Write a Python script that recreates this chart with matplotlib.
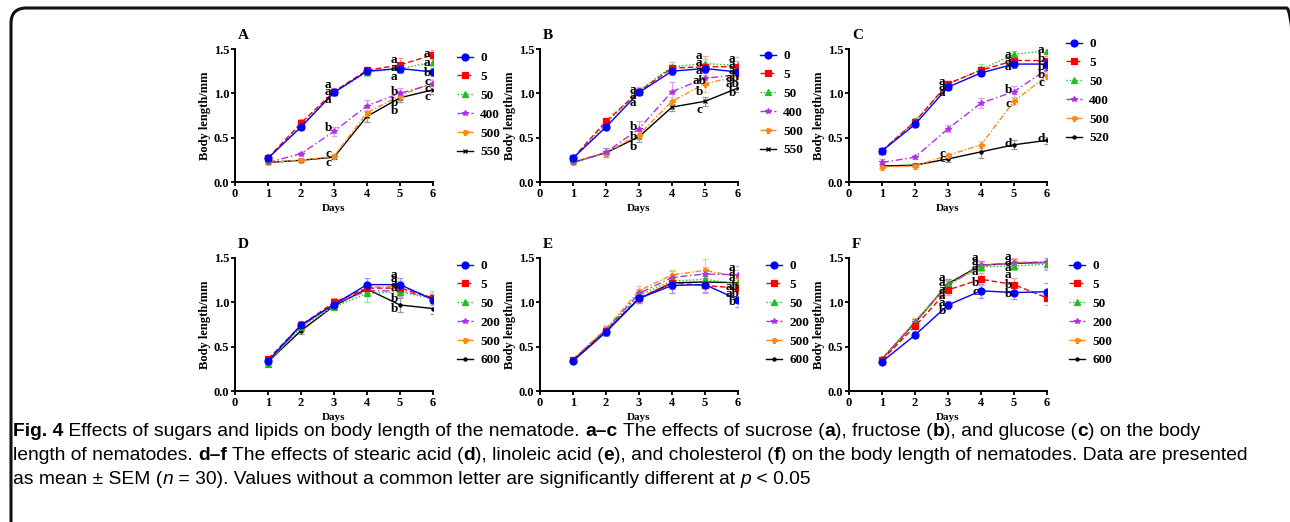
import matplotlib
matplotlib.use("Agg")
import matplotlib.pyplot as plt
from matplotlib.patches import FancyBboxPatch

days = [1, 2, 3, 4, 5, 6]

# --- A: sucrose ---
a_groups = ["0", "5", "50", "400", "500", "550"]
a_vals = [
    [0.27, 0.62, 1.01, 1.25, 1.28, 1.24],
    [0.27, 0.665, 1.02, 1.26, 1.32, 1.435],
    [0.26, 0.64, 1.01, 1.24, 1.28, 1.35],
    [0.22, 0.32, 0.57, 0.86, 1.00, 1.105],
    [0.22, 0.245, 0.29, 0.78, 0.975, 1.12],
    [0.22, 0.245, 0.28, 0.74, 0.95, 1.04],
]
a_err = [
    [0.03, 0.03, 0.03, 0.04, 0.05, 0.05],
    [0.03, 0.04, 0.04, 0.04, 0.08, 0.05],
    [0.02, 0.03, 0.04, 0.04, 0.04, 0.04],
    [0.02, 0.02, 0.05, 0.06, 0.06, 0.05],
    [0.02, 0.02, 0.03, 0.05, 0.05, 0.04],
    [0.02, 0.02, 0.02, 0.06, 0.05, 0.05],
]
a_letters = [(3, 1.09, "a"), (3, 1.02, "a"), (3, 0.92, "a"), (3, 0.61, "b"),
             (3, 0.32, "c"), (3, 0.21, "c"),
             (5, 1.38, "a"), (5, 1.29, "a"), (5, 1.18, "a"), (5, 1.01, "b"),
             (5, 0.89, "b"), (5, 0.80, "b"),
             (6, 1.44, "a"), (6, 1.34, "a"), (6, 1.23, "b"), (6, 1.13, "c"),
             (6, 1.05, "c"), (6, 0.96, "c")]

# --- B: fructose ---
b_groups = ["0", "5", "50", "400", "500", "550"]
b_vals = [
    [0.27, 0.62, 1.01, 1.25, 1.28, 1.24],
    [0.27, 0.685, 1.02, 1.285, 1.30, 1.30],
    [0.26, 0.66, 1.03, 1.30, 1.335, 1.315],
    [0.22, 0.335, 0.60, 1.02, 1.17, 1.21],
    [0.22, 0.33, 0.535, 0.91, 1.11, 1.19],
    [0.22, 0.33, 0.51, 0.845, 0.91, 1.06],
]
b_err = [
    [0.03, 0.03, 0.03, 0.04, 0.05, 0.05],
    [0.03, 0.04, 0.04, 0.04, 0.12, 0.11],
    [0.02, 0.03, 0.04, 0.05, 0.05, 0.05],
    [0.02, 0.03, 0.09, 0.11, 0.07, 0.05],
    [0.02, 0.03, 0.04, 0.05, 0.10, 0.06],
    [0.02, 0.05, 0.06, 0.04, 0.05, 0.05],
]
b_letters = [(3, 1.04, "a"), (3, 0.97, "a"), (3, 0.89, "a"), (3, 0.62, "b"),
             (3, 0.51, "b"), (3, 0.40, "b"),
             (5, 1.42, "a"), (5, 1.34, "a"), (5, 1.25, "a"), (5, 1.135, "ab"),
             (5, 1.01, "b"), (5, 0.815, "c"),
             (6, 1.39, "a"), (6, 1.32, "a"), (6, 1.25, "a"), (6, 1.17, "ab"),
             (6, 1.10, "ab"), (6, 1.00, "b")]

# --- C: glucose ---
c_groups = ["0", "5", "50", "400", "500", "520"]
c_vals = [
    [0.35, 0.65, 1.07, 1.23, 1.33, 1.33],
    [0.355, 0.68, 1.11, 1.26, 1.37, 1.37],
    [0.35, 0.69, 1.10, 1.27, 1.44, 1.48],
    [0.22, 0.28, 0.60, 0.89, 1.02, 1.27],
    [0.17, 0.18, 0.30, 0.42, 0.91, 1.20],
    [0.18, 0.19, 0.26, 0.34, 0.42, 0.47],
]
c_err = [
    [0.02, 0.03, 0.03, 0.04, 0.04, 0.04],
    [0.02, 0.03, 0.03, 0.04, 0.04, 0.05],
    [0.02, 0.03, 0.03, 0.06, 0.04, 0.03],
    [0.04, 0.02, 0.04, 0.06, 0.06, 0.05],
    [0.03, 0.03, 0.03, 0.04, 0.04, 0.04],
    [0.02, 0.02, 0.03, 0.07, 0.05, 0.04],
]
c_letters = [(3, 1.13, "a"), (3, 1.07, "a"), (3, 1.00, "a"), (3, 0.32, "c"),
             (3, 0.26, "c"),
             (5, 1.43, "a"), (5, 1.37, "a"), (5, 1.30, "a"), (5, 1.04, "b"),
             (5, 0.88, "c"), (5, 0.43, "d"),
             (6, 1.49, "a"), (6, 1.39, "b"), (6, 1.30, "b"), (6, 1.21, "b"),
             (6, 1.12, "c"), (6, 0.49, "d")]

# --- D: stearic acid ---
d_groups = ["0", "5", "50", "200", "500", "600"]
d_vals = [
    [0.34, 0.745, 0.975, 1.20, 1.20, 1.03],
    [0.36, 0.74, 1.00, 1.16, 1.16, 1.05],
    [0.31, 0.72, 0.95, 1.10, 1.12, 1.04],
    [0.33, 0.73, 0.98, 1.13, 1.13, 1.05],
    [0.33, 0.73, 0.98, 1.17, 1.18, 1.05],
    [0.33, 0.68, 0.96, 1.15, 0.97, 0.93],
]
d_err = [
    [0.02, 0.04, 0.04, 0.07, 0.08, 0.06],
    [0.02, 0.04, 0.05, 0.05, 0.06, 0.06],
    [0.02, 0.04, 0.04, 0.10, 0.06, 0.06],
    [0.02, 0.04, 0.05, 0.06, 0.06, 0.08],
    [0.02, 0.04, 0.05, 0.06, 0.06, 0.06],
    [0.02, 0.04, 0.04, 0.06, 0.08, 0.06],
]
d_letters = [(5, 1.31, "a"), (5, 1.26, "a"), (5, 1.21, "a"), (5, 1.16, "a"),
             (5, 1.04, "b"), (5, 0.93, "b")]

# --- E: linoleic acid ---
e_groups = ["0", "5", "50", "200", "500", "600"]
e_vals = [
    [0.34, 0.665, 1.045, 1.19, 1.20, 1.03],
    [0.35, 0.68, 1.05, 1.22, 1.19, 1.16],
    [0.35, 0.69, 1.08, 1.24, 1.26, 1.21],
    [0.35, 0.69, 1.10, 1.28, 1.32, 1.31],
    [0.36, 0.70, 1.13, 1.31, 1.36, 1.29],
    [0.34, 0.67, 1.04, 1.22, 1.23, 1.22],
]
e_err = [
    [0.02, 0.04, 0.05, 0.08, 0.08, 0.08],
    [0.02, 0.04, 0.05, 0.06, 0.08, 0.06],
    [0.02, 0.04, 0.05, 0.07, 0.07, 0.06],
    [0.02, 0.04, 0.05, 0.07, 0.08, 0.10],
    [0.02, 0.04, 0.05, 0.06, 0.13, 0.07],
    [0.02, 0.04, 0.05, 0.07, 0.07, 0.06],
]
e_letters = [(6, 1.39, "a"), (6, 1.33, "a"), (6, 1.27, "a"), (6, 1.17, "ab"),
             (6, 1.09, "ab"), (6, 1.00, "b")]

# --- F: cholesterol ---
f_groups = ["0", "5", "50", "200", "500", "600"]
f_vals = [
    [0.33, 0.63, 0.97, 1.13, 1.11, 1.12],
    [0.35, 0.73, 1.14, 1.26, 1.20, 1.05],
    [0.36, 0.77, 1.20, 1.40, 1.41, 1.43],
    [0.36, 0.78, 1.19, 1.42, 1.44, 1.45],
    [0.36, 0.78, 1.20, 1.41, 1.45, 1.46],
    [0.36, 0.77, 1.21, 1.42, 1.44, 1.45],
]
f_err = [
    [0.02, 0.03, 0.04, 0.08, 0.07, 0.10],
    [0.02, 0.05, 0.06, 0.07, 0.08, 0.08],
    [0.02, 0.04, 0.05, 0.05, 0.05, 0.05],
    [0.02, 0.04, 0.05, 0.05, 0.05, 0.08],
    [0.02, 0.04, 0.06, 0.05, 0.05, 0.05],
    [0.02, 0.04, 0.05, 0.05, 0.05, 0.05],
]
f_letters = [(3, 1.28, "a"), (3, 1.22, "a"), (3, 1.14, "a"), (3, 1.07, "a"),
             (3, 0.99, "a"), (3, 0.90, "b"),
             (4, 1.50, "a"), (4, 1.45, "a"), (4, 1.40, "a"), (4, 1.34, "a"),
             (4, 1.22, "b"), (4, 1.12, "c"),
             (5, 1.51, "a"), (5, 1.45, "a"), (5, 1.39, "a"), (5, 1.31, "a"),
             (5, 1.19, "b"), (5, 1.09, "b")]

# styles per series position
colors = ["#0000ff", "#ff0000", "#1fbf1f", "#b22ee8", "#ff8a1a", "#000000"]
err_colors = ["#9a9aff", "#ff9a9a", "#9ae09a", "#d9a0f5", "#ffc790", "#9a9a9a"]
styles = ["-", (0, (4, 2)), (0, (1, 1.5)), (0, (5, 2, 1, 2)), (0, (4, 1.5, 1, 1.5)), "-"]
markers = ["o", "s", "^", "*", "P", "x"]
msizes = [5, 4.2, 3.8, 4.2, 3.6, 3.5]

serif = "Liberation Serif"
W, H = 1290, 522

fig = plt.figure(figsize=(12.9, 5.22), dpi=100)

# rounded frame around figure (right and bottom edges run off the picture)
frame = FancyBboxPatch((11 / W, -0.2), (1302 - 11) / W, 1.2 - 8 / H,
                       boxstyle="round,pad=0,rounding_size=0.012",
                       transform=fig.transFigure, fill=False, lw=2.2,
                       ec="#111111", mutation_aspect=W / H)
fig.patches.append(frame)

# name, groups, values, errors, letters, axes left px, axes bottom px,
# last marker, legend left px, legend top px
panels = [
    ("A", a_groups, a_vals, a_err, a_letters, 235, 182, "x", 457, 52),
    ("B", b_groups, b_vals, b_err, b_letters, 540, 182, "x", 760, 50),
    ("C", c_groups, c_vals, c_err, c_letters, 849, 182, ".", 1066, 38),
    ("D", d_groups, d_vals, d_err, d_letters, 235, 391, ".", 457, 260),
    ("E", e_groups, e_vals, e_err, e_letters, 540, 391, ".", 766, 260),
    ("F", f_groups, f_vals, f_err, f_letters, 849, 391, ".", 1069, 260),
]

for name, groups, vals, errs, letters, px, py, last_marker, lx, ly in panels:
    ax = fig.add_axes([px / W, 1 - py / H, 198 / W, 133 / H])
    handles = []
    for i in range(6):
        mk = markers[i] if i < 5 else last_marker
        ms = msizes[i] if i < 5 else (3.5 if last_marker == "x" else 4.5)
        ax.errorbar(days, vals[i], yerr=errs[i], fmt="none", ecolor=err_colors[i],
                    elinewidth=0.9, capsize=2, capthick=0.9, zorder=2)
        h, = ax.plot(days, vals[i], color=colors[i], ls=styles[i], lw=1.0,
                     marker=mk, ms=ms, mew=0.9, zorder=3 + (6 - i) * 0.1)
        handles.append(h)
    for d, y, t in letters:
        ax.text(d - 0.17, y, t, ha="center", va="center", fontsize=9.5,
                fontweight="bold", family=serif, zorder=5)
    ax.set_xlim(0, 6)
    ax.set_ylim(0, 1.5)
    ax.set_xticks(range(7))
    ax.set_yticks([0, 0.5, 1.0, 1.5])
    ax.set_yticklabels(["0.0", "0.5", "1.0", "1.5"])
    for s in ["top", "right"]:
        ax.spines[s].set_visible(False)
    for s in ["left", "bottom"]:
        ax.spines[s].set_linewidth(1.4)
    ax.tick_params(direction="out", length=3, width=1.3, pad=1)
    for lab in ax.get_xticklabels() + ax.get_yticklabels():
        lab.set_fontfamily(serif)
        lab.set_fontweight("bold")
        lab.set_fontsize(9)
    ax.set_ylabel("Body length/mm", family=serif, fontweight="bold", fontsize=9, labelpad=2)
    ax.set_xlabel("Days", family=serif, fontweight="bold", fontsize=8, labelpad=3)
    ax.text(0.015, 1.05, name, transform=ax.transAxes, family=serif,
            fontweight="bold", fontsize=11, ha="left", va="bottom")
    fig.legend(handles, groups, loc="upper left", bbox_to_anchor=(lx / W, 1 - ly / H),
               bbox_transform=fig.transFigure, frameon=False, handlelength=1.2,
               handletextpad=0.55, labelspacing=0.5, borderaxespad=0, borderpad=0,
               prop={"family": serif, "weight": "bold", "size": 9.5})

# caption with mixed styles
cap_font = ["Liberation Sans", "DejaVu Sans"]
cap_size = 13.9
cap_lines = [
    [("Fig. 4", "bold", "normal"),
     (" Effects of sugars and lipids on body length of the nematode. ", "normal", "normal"),
     ("a–c", "bold", "normal"), (" The effects of sucrose (", "normal", "normal"),
     ("a", "bold", "normal"), ("), fructose (", "normal", "normal"),
     ("b", "bold", "normal"), ("), and glucose (", "normal", "normal"),
     ("c", "bold", "normal"), (") on the body", "normal", "normal")],
    [("length of nematodes. ", "normal", "normal"), ("d–f", "bold", "normal"),
     (" The effects of stearic acid (", "normal", "normal"), ("d", "bold", "normal"),
     ("), linoleic acid (", "normal", "normal"), ("e", "bold", "normal"),
     ("), and cholesterol (", "normal", "normal"), ("f", "bold", "normal"),
     (") on the body length of nematodes. Data are presented", "normal", "normal")],
    [("as mean ± SEM (", "normal", "normal"), ("n", "normal", "italic"),
     (" = 30). Values without a common letter are significantly different at ", "normal", "normal"),
     ("p", "normal", "italic"), (" < 0.05", "normal", "normal")],
]
cap_y = [432, 456, 480]

renderer = fig.canvas.get_renderer()
for segs, yy in zip(cap_lines, cap_y):
    x = 13 / W
    for s, w, st in segs:
        t = fig.text(x, 1 - yy / H, s, fontsize=cap_size, fontweight=w, style=st,
                     family=cap_font, ha="left", va="center")
        bb = t.get_window_extent(renderer)
        x += bb.width / fig.bbox.width

fig.savefig("out.png", dpi=100)
